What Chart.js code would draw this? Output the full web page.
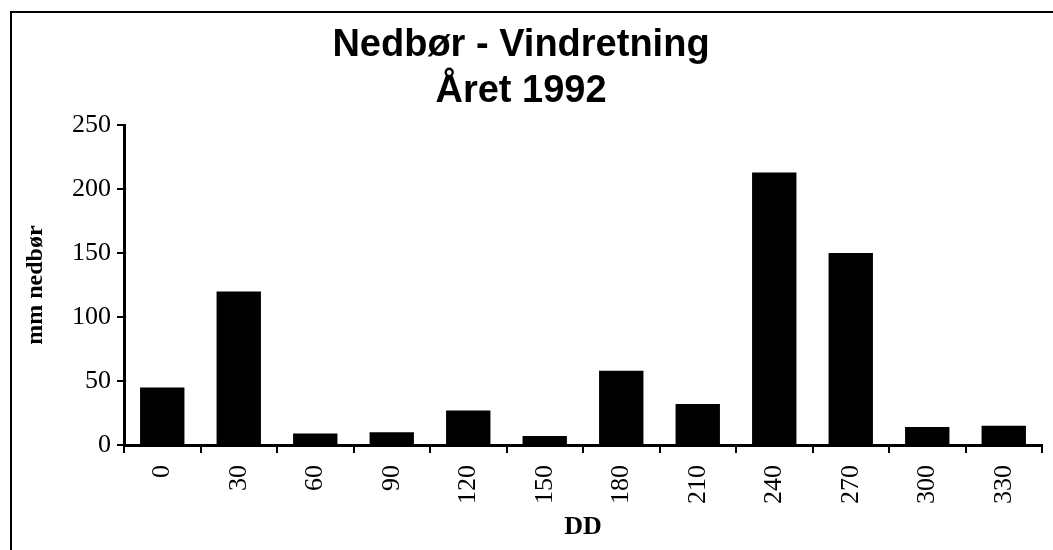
<!DOCTYPE html>
<html>
<head>
<meta charset="utf-8">
<script src="https://cdn.jsdelivr.net/npm/chart.js@4/dist/chart.umd.min.js"></script>
<style>
  html, body { margin: 0; padding: 0; background: #fff; overflow: hidden; }
  #wrap { position: relative; width: 1053px; height: 550px; }
  #frame { position: absolute; left: 10px; top: 11px; width: 1100px; height: 600px;
           border-top: 2px solid #000; border-left: 2px solid #000; }
  canvas { position: absolute; left: 0; top: 0; }
</style>
</head>
<body>
<div id="wrap">
  <div id="frame"></div>
  <canvas id="c" width="1053" height="550"></canvas>
</div>
<script>
const categories = ['0', '30', '60', '90', '120', '150', '180', '210', '240', '270', '300', '330'];
const nedbor = [45, 120, 9, 10, 27, 7, 58, 32, 213, 150, 14, 15];
const yTicks = [0, 50, 100, 150, 200, 250];
const titleLines = ['Nedbør - Vindretning', 'Året 1992'];
const yTitle = 'mm nedbør';
const xTitle = 'DD';

const serif = "'Liberation Serif', 'Times New Roman', serif";
const sans = "'Liberation Sans', Arial, sans-serif";

new Chart(document.getElementById('c'), {
  type: 'bar',
  data: {
    labels: categories,
    datasets: [{
      data: nedbor,
      backgroundColor: '#000',
      borderWidth: 0,
      categoryPercentage: 1,
      barPercentage: 0.58
    }]
  },
  options: {
    responsive: false,
    devicePixelRatio: 1,
    animation: false,
    layout: { padding: { left: 0, right: 11, top: 0, bottom: 0 } },
    plugins: {
      legend: { display: false },
      tooltip: { enabled: false },
      title: {
        display: true,
        text: titleLines,
        color: '#000',
        font: { family: sans, size: 38, weight: 'bold', lineHeight: 1.2 },
        padding: { top: 23, bottom: 11 }
      }
    },
    scales: {
      x: {
        afterFit: s => { s.height = 105; },
        border: { display: true, color: '#000', width: 3 },
        grid: { display: true, drawOnChartArea: false, drawTicks: true, tickLength: 8, color: '#000', lineWidth: 2, offset: true },
        ticks: { color: '#000', font: { family: serif, size: 26 }, minRotation: 90, maxRotation: 90, padding: 12, autoSkip: false },
        title: { display: true, text: xTitle, color: '#000', font: { family: serif, size: 26, weight: 'bold', lineHeight: 1.2 }, padding: { top: 0, bottom: 7 } }
      },
      y: {
        min: 0,
        max: 250,
        afterFit: s => { s.width = 124; },
        afterBuildTicks: s => { s.ticks = yTicks.map(v => ({ value: v })); },
        border: { display: true, color: '#000', width: 3 },
        grid: { display: true, drawOnChartArea: false, drawTicks: true, tickLength: 7, color: '#000', lineWidth: 2 },
        ticks: { color: '#000', font: { family: serif, size: 26 }, padding: 6 },
        title: { display: true, text: yTitle, color: '#000', font: { family: serif, size: 24, weight: 'bold', lineHeight: 1.2 }, padding: { top: 21, bottom: 0 } }
      }
    }
  }
});
</script>
</body>
</html>
